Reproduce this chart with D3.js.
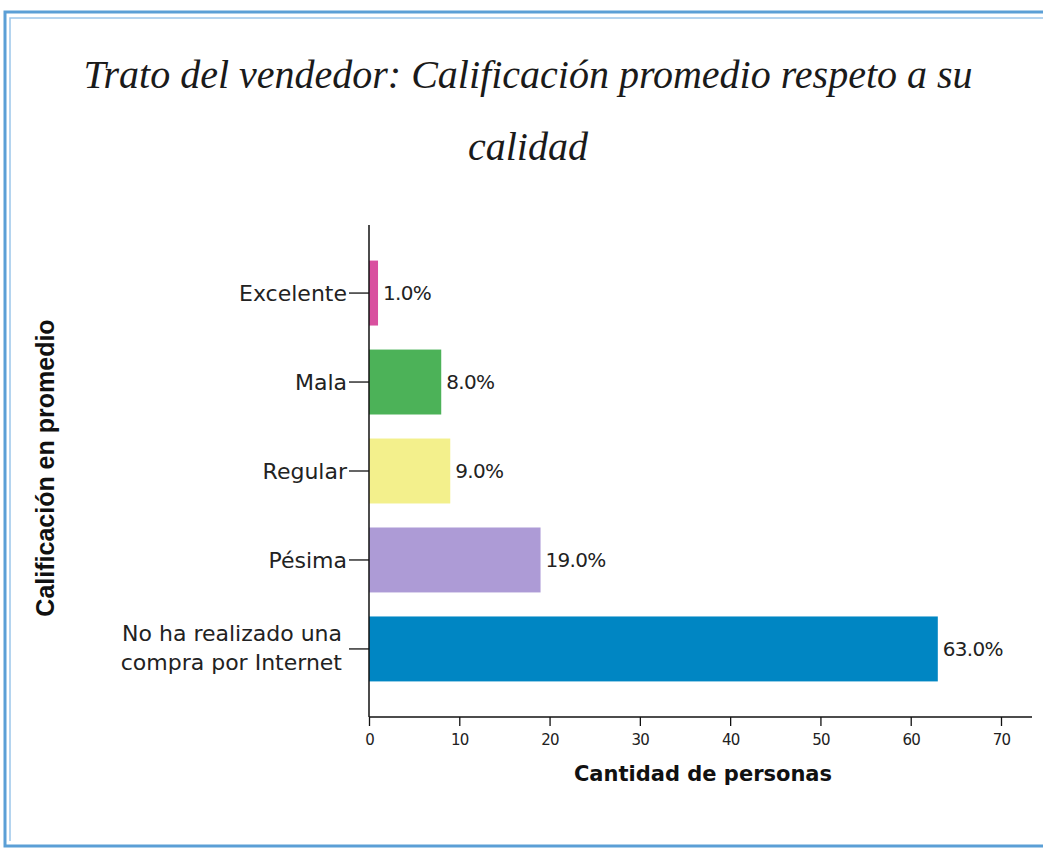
<!DOCTYPE html>
<html><head><meta charset="utf-8">
<script src="https://cdn.jsdelivr.net/npm/d3@7"></script>
<style>body{margin:0;background:#fff}svg{display:block}</style>
</head><body>
<script>
const categories = ["Excelente","Mala","Regular","Pésima","No ha realizado una|compra por Internet"];
const values = [1,8,9,19,63];
const percentLabels = ["1.0%","8.0%","9.0%","19.0%","63.0%"];
const colors = ["#d9509f","#4cb258","#f3f08c","#ad9bd6","#0086c3"];
const xTicks = [0,10,20,30,40,50,60,70];
const titleLines = ["Trato del vendedor: Calificación promedio respeto a su","calidad"];
const xTitle = "Cantidad de personas";
const yTitle = "Calificación en promedio";

const W = 1043, H = 850;
const svg = d3.select("body").append("svg").attr("width",W).attr("height",H);

// border (double blue line)
const bc = "#5b9fd6";
svg.append("path").attr("d",`M${W+5},12 H5 V846 H${W+5}`).attr("fill","none").attr("stroke",bc).attr("stroke-width",3);
svg.append("path").attr("d",`M${W+5},18 H10 V841`).attr("fill","none").attr("stroke","#9cc6ea").attr("stroke-width",1.5);

// title
svg.append("g").selectAll("text").data(titleLines).join("text")
  .attr("x",528).attr("y",(d,i)=>88+i*72)
  .attr("text-anchor","middle")
  .attr("font-family","'Liberation Serif', serif").attr("font-style","italic")
  .attr("font-size",40).attr("fill","#1a1a1a").text(d=>d);

const x = d3.scaleLinear().domain([0,70]).range([369,1001]);
const y = d3.scaleBand().domain(categories).range([225,717]).paddingInner(0.27).paddingOuter(0.4);

const labelFont = "'DejaVu Sans', Verdana, sans-serif";

// bars
svg.append("g").selectAll("rect").data(categories).join("rect")
  .attr("x",x(0)).attr("y",d=>y(d)).attr("height",y.bandwidth())
  .attr("width",(d,i)=>x(values[i])-x(0)).attr("fill",(d,i)=>colors[i]);

// value labels
svg.append("g").selectAll("text").data(categories).join("text")
  .attr("x",(d,i)=>x(values[i])+5).attr("y",d=>y(d)+y.bandwidth()/2+7)
  .attr("font-family",labelFont).attr("font-size",20).attr("letter-spacing",-0.7).attr("fill","#222")
  .text((d,i)=>percentLabels[i]);

// y axis
const yAxis = svg.append("g").attr("transform",`translate(${x(0)},0)`)
  .call(d3.axisLeft(y).tickSize(20).tickSizeOuter(0).tickFormat(""));
yAxis.select(".domain").attr("stroke","#111").attr("stroke-width",1.5).attr("d","M0,225V717");
yAxis.selectAll(".tick line").attr("stroke","#111").attr("stroke-width",1.3);
categories.forEach(c=>{
  const lines = c.split("|");
  const t = svg.append("text").attr("text-anchor","end")
    .attr("font-family",labelFont).attr("font-size",22).attr("fill","#222");
  const cy = y(c)+y.bandwidth()/2;
  lines.forEach((l,i)=>{
    t.append("tspan").attr("x",x(0)-(lines.length>1?27:22))
      .attr("y",cy+8+(i-(lines.length-1)/2)*29 - (lines.length>1?1:0)).text(l);
  });
});

// x axis
const xAxis = svg.append("g").attr("transform","translate(0,717)")
  .call(d3.axisBottom(x).tickValues(xTicks).tickSize(9).tickSizeOuter(0).tickPadding(8));
xAxis.select(".domain").attr("stroke","#111").attr("stroke-width",1.5).attr("d",`M${x(0)},0H1032`);
xAxis.selectAll(".tick line").attr("stroke","#111").attr("stroke-width",1.3);
xAxis.selectAll(".tick text").attr("font-family",labelFont).attr("font-size",15).attr("letter-spacing",-0.8).attr("fill","#222");

// axis titles
svg.append("text").attr("x",703).attr("y",781).attr("text-anchor","middle")
  .attr("font-family",labelFont).attr("font-weight","bold")
  .attr("font-size",21).attr("fill","#111").text(xTitle);
svg.append("text").attr("transform","translate(54,468) rotate(-90)").attr("text-anchor","middle")
  .attr("font-family","'Liberation Sans', Arial, sans-serif").attr("font-weight","bold")
  .attr("font-size",25).attr("fill","#111").text(yTitle);
</script>
</body></html>
